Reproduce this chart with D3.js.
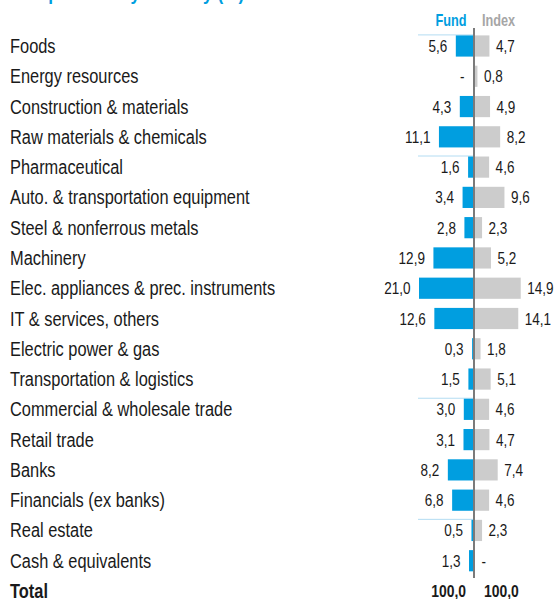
<!DOCTYPE html>
<html>
<head>
<meta charset="utf-8">
<script src="https://cdn.jsdelivr.net/npm/d3@7"></script>
<style>
  html, body { margin: 0; padding: 0; background: #fff; }
  svg { display: block; }
  text { font-family: "Liberation Sans", Arial, sans-serif; }
</style>
</head>
<body>
<script>
const categories = [
  "Foods", "Energy resources", "Construction & materials", "Raw materials & chemicals",
  "Pharmaceutical", "Auto. & transportation equipment", "Steel & nonferrous metals",
  "Machinery", "Elec. appliances & prec. instruments", "IT & services, others",
  "Electric power & gas", "Transportation & logistics", "Commercial & wholesale trade",
  "Retail trade", "Banks", "Financials (ex banks)", "Real estate", "Cash & equivalents"
];
const fundValues  = [5.6, null, 4.3, 11.1, 1.6, 3.4, 2.8, 12.9, 21.0, 12.6, 0.3, 1.5, 3.0, 3.1, 8.2, 6.8, 0.5, 1.3];
const indexValues = [4.7, 0.8, 4.9, 8.2, 4.6, 9.6, 2.3, 5.2, 14.9, 14.1, 1.8, 5.1, 4.6, 4.7, 7.4, 4.6, 2.3, null];
const seriesNames = ["Fund", "Index"];
const totalLabel = "Total";
const totalValues = [100.0, 100.0];
const separatorRows = ["Foods", "Pharmaceutical", "Commercial & wholesale trade", "Real estate"];
const titleText = "Composition by industry (%)";

const W = 554, H = 599;
const axisX = 474;
const blue = "#009ee0", grey = "#cccccc", ink = "#1a1a1a";
const SX = 0.82; // horizontal condensing of the typeface
const fmt = v => v == null ? "-" : d3.format(".1f")(v).replace(".", ",");

const svg = d3.select("body").append("svg").attr("width", W).attr("height", H);

// condensed text helper
function ctext(parent, xPos, yPos, str, opts) {
  const g = parent.append("g").attr("transform", `translate(${xPos},${yPos}) scale(${SX},${opts.sy || 1})`);
  const t = g.append("text").attr("x", 0).attr("y", 0)
    .attr("font-size", opts.size).attr("fill", opts.fill || ink)
    .attr("font-weight", opts.bold ? "bold" : "normal")
    .attr("text-anchor", opts.anchor || "start")
    .text(str);
  return t;
}

const rows = categories.concat([totalLabel]);
const y = d3.scalePoint().domain(rows).range([46, 591]);
const barH = y.step() * 0.7;
const x = d3.scaleLinear().domain([0, 17.6]).range([0, 54]).clamp(true);

// cut-off title (only its lower edge shows, as in the reference)
ctext(svg, 10, -0.5, titleText, { size: 21, bold: true, fill: blue });

// headers
ctext(svg, 451, 26, seriesNames[0], { size: 15.5, bold: true, fill: blue, anchor: "middle", sy: 1.05 });
ctext(svg, 498.5, 26, seriesNames[1], { size: 15.5, bold: true, fill: "#a6a6a6", anchor: "middle", sy: 1.05 });

// separators
svg.append("g").selectAll("line").data(separatorRows).join("line")
  .attr("x1", 418).attr("x2", axisX - 1)
  .attr("y1", d => y(d) - barH / 2 - 0.5).attr("y2", d => y(d) - barH / 2 - 0.5)
  .attr("stroke", "#b3dcf2").attr("stroke-width", 1);

// category labels
const labG = svg.append("g");
rows.forEach(r => ctext(labG, 10, y(r) + 7, r, { size: 20, bold: r === totalLabel, sy: 1.05 }));

const data = categories.map((c, i) => ({ c, f: fundValues[i], idx: indexValues[i] }));

// fund bars
svg.append("g").selectAll("rect").data(data.filter(d => d.f != null)).join("rect")
  .attr("x", d => axisX - 1 - x(d.f)).attr("width", d => x(d.f))
  .attr("y", d => y(d.c) - barH / 2).attr("height", barH)
  .attr("fill", blue);
// index bars
svg.append("g").selectAll("rect").data(data.filter(d => d.idx != null)).join("rect")
  .attr("x", axisX + 1).attr("width", d => x(d.idx))
  .attr("y", d => y(d.c) - barH / 2).attr("height", barH)
  .attr("fill", grey);

// value labels
const valG = svg.append("g");
data.forEach(d => {
  ctext(valG, axisX - 1 - x(d.f || 0) - 8.5, y(d.c) + 6, fmt(d.f), { size: 16.5, anchor: "end" });
  ctext(valG, axisX + 1 + x(d.idx || 0) + 6.5, y(d.c) + 6, fmt(d.idx), { size: 16.5 });
});

// totals
ctext(svg, 466, y(totalLabel) + 6, fmt(totalValues[0]), { size: 17, bold: true, anchor: "end" });
ctext(svg, 484, y(totalLabel) + 6, fmt(totalValues[1]), { size: 17, bold: true });

// centre axis
svg.append("line").attr("x1", axisX).attr("x2", axisX).attr("y1", 28).attr("y2", 578)
  .attr("stroke", "#333").attr("stroke-width", 1.3);
</script>
</body>
</html>
